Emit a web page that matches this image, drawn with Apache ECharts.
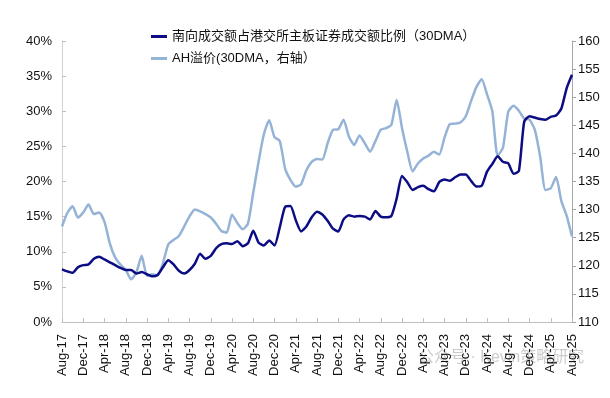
<!DOCTYPE html>
<html>
<head>
<meta charset="utf-8">
<script src="https://cdn.jsdelivr.net/npm/echarts@6/dist/echarts.min.js"></script>
<style>
  html, body { margin: 0; padding: 0; background: #fff; }
  #main { width: 610px; height: 398px; }
</style>
</head>
<body>
<div id="main"></div>
<script>
// 月份标签 Aug-17 ~ Aug-25
const monthNames = ['Jan', 'Feb', 'Mar', 'Apr', 'May', 'Jun', 'Jul', 'Aug', 'Sep', 'Oct', 'Nov', 'Dec'];
const months = [];
for (let i = 0; i < 97; i++) {
  let m = (7 + i) % 12
  let y = 17 + Math.floor((7 + i) / 12)
  months.push(monthNames[m] + '-' + y)
}

// 南向成交额占港交所主板证券成交额比例（30DMA），%
const southboundShare = [
  7.5, 7.2, 7.0, 7.8, 8.1, 8.2, 9.0, 9.3, 8.9, 8.5, 8.1, 7.7,
  7.4, 7.4, 6.9, 7.1, 6.8, 6.5, 6.7, 7.8, 8.8, 8.2, 7.3, 6.9,
  7.4, 8.3, 9.7, 9.0, 9.4, 10.5, 11.1, 11.2, 11.1, 11.5, 10.8, 11.2,
  13.0, 11.3, 10.9, 11.6, 10.9, 13.5, 16.4, 16.5, 14.5, 12.9, 13.6, 14.9,
  15.7, 15.3, 14.4, 13.3, 12.9, 14.6, 15.2, 15.0, 15.1, 15.0, 14.6, 15.8,
  15.0, 14.9, 15.1, 17.6, 20.8, 19.9, 18.8, 19.2, 19.4, 18.9, 18.6, 19.9,
  20.3, 20.1, 20.6, 21.0, 21.0, 20.1, 19.3, 19.4, 21.4, 22.5, 23.6, 22.8,
  22.6, 21.1, 21.5, 28.5, 29.3, 29.1, 28.9, 28.8, 29.2, 29.4, 30.4, 33.3,
  35.2
];

// AH溢价（30DMA，右轴）
const ahPremium = [
  127.0, 129.4, 130.6, 128.6, 129.5, 130.9, 129.2, 129.5, 127.8, 124.0, 121.5, 120.2,
  119.3, 117.6, 118.8, 121.8, 118.2, 118.5, 118.3, 120.5, 123.8, 124.6, 125.3, 127.0,
  128.8, 130.0, 129.7, 129.2, 128.6, 127.5, 126.2, 125.9, 129.1, 127.6, 126.5, 127.5,
  133.0, 138.5, 143.4, 145.9, 142.9, 142.2, 137.3, 135.3, 134.1, 134.5, 137.0, 138.5,
  139.0, 138.9, 141.8, 144.2, 144.3, 146.0, 143.0, 141.5, 143.2, 141.8, 140.3, 142.2,
  144.2, 144.5, 145.1, 149.5, 144.5, 140.3, 136.8, 138.2, 139.1, 139.6, 140.3, 139.8,
  142.8, 145.2, 145.3, 145.5, 146.6, 149.3, 151.8, 153.2, 150.5, 147.5, 139.6, 141.0,
  147.4, 148.5, 147.6, 146.2, 146.0, 144.2, 139.5, 133.5, 133.8, 135.8, 131.5, 128.9,
  125.2
];

const seriesNames = ['南向成交额占港交所主板证券成交额比例（30DMA）', 'AH溢价(30DMA，右轴）'];

const chart = echarts.init(document.getElementById('main'));
const font = 'Arial, "Liberation Sans", "Noto Sans CJK SC", sans-serif';

chart.setOption({
  animation: false,
  backgroundColor: '#fff',
  textStyle: { fontFamily: font },
  legend: {
    orient: 'vertical',
    left: 146,
    top: 25,
    itemGap: 9,
    itemWidth: 16,
    itemHeight: 3,
    icon: 'rect',
    textStyle: { fontSize: 13, color: '#111', fontFamily: font },
    data: seriesNames
  },
  grid: { left: 62, right: 38, top: 41, bottom: 76 },
  xAxis: {
    type: 'category',
    data: months,
    boundaryGap: false,
    axisLine: { lineStyle: { color: '#bfbfbf', width: 1 } },
    axisTick: { show: true, inside: true, length: 4, interval: 3, lineStyle: { color: '#bfbfbf' } },
    axisLabel: { interval: 3, rotate: 90, margin: 12, fontSize: 13, color: '#111', fontFamily: font },
    splitLine: { show: false }
  },
  yAxis: [
    {
      type: 'value',
      min: 0,
      max: 40,
      interval: 5,
      axisLine: { show: true, lineStyle: { color: '#d0d0d0', width: 1 } },
      axisTick: { show: true, inside: true, length: 4, lineStyle: { color: '#bfbfbf' } },
      axisLabel: { formatter: '{value}%', fontSize: 13, color: '#111', margin: 10, fontFamily: font },
      splitLine: { show: false }
    },
    {
      type: 'value',
      min: 110,
      max: 160,
      interval: 5,
      position: 'right',
      axisLine: { show: true, lineStyle: { color: '#a6a6a6', width: 1 } },
      axisTick: { show: true, inside: false, length: 4, lineStyle: { color: '#a6a6a6' } },
      axisLabel: { fontSize: 13, color: '#111', margin: 6, fontFamily: font },
      splitLine: { show: false }
    }
  ],
  series: [
    {
      name: seriesNames[1],
      type: 'line',
      yAxisIndex: 1,
      data: ahPremium,
      showSymbol: false,
      smooth: 0.2,
      lineStyle: { color: '#95b3d7', width: 2.5 },
      itemStyle: { color: '#95b3d7' }
    },
    {
      name: seriesNames[0],
      type: 'line',
      yAxisIndex: 0,
      data: southboundShare,
      showSymbol: false,
      smooth: 0.2,
      lineStyle: { color: '#0c0c84', width: 2.5 },
      itemStyle: { color: '#0c0c84' }
    }
  ],
  graphic: [
    {
      // 水印
      type: 'text',
      left: 418,
      top: 350,
      silent: true,
      style: { text: '公众号 · Kevin策略研究', fontSize: 16, fill: 'rgba(160,160,160,0.55)', fontFamily: font }
    }
  ]
});
</script>
</body>
</html>
